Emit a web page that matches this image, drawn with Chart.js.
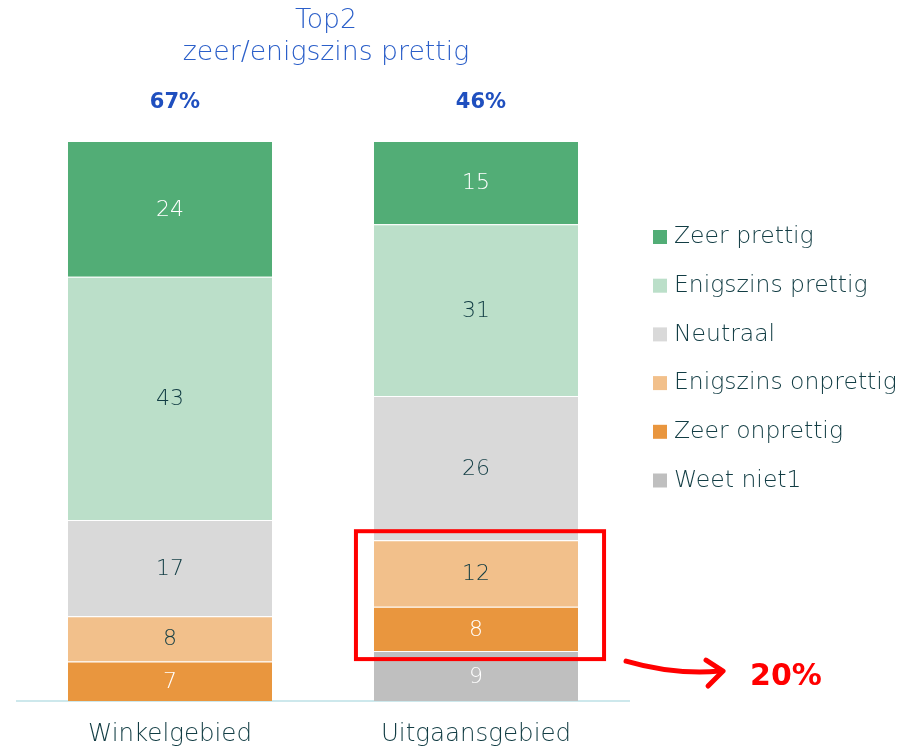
<!DOCTYPE html>
<html>
<head>
<meta charset="utf-8">
<script src="https://cdn.jsdelivr.net/npm/chart.js@4.4.1/dist/chart.umd.min.js"></script>
<style>
  html, body { margin: 0; padding: 0; background: #fff; }
  #wrap { width: 904px; height: 750px; position: relative; }
</style>
</head>
<body>
<div id="wrap"><canvas id="myChart" width="904" height="750"></canvas></div>
<script>
// * Raw data
const categories = ["Winkelgebied", "Uitgaansgebied"];
const seriesNames = ["Zeer prettig", "Enigszins prettig", "Neutraal", "Enigszins onprettig", "Zeer onprettig", "Weet niet1"];
const zeerPrettig = [24, 15];
const enigszinsPrettig = [43, 31];
const neutraal = [17, 26];
const enigszinsOnprettig = [8, 12];
const zeerOnprettig = [7, 8];
const weetNiet = [0, 9];

const colors = ["#52AD76", "#BBDFC9", "#D9D9D9", "#F2C08B", "#E9963E", "#BFBFBF"];
const textColor = "#123D44";
const labelColors = ["#ffffff", textColor, textColor, textColor, "#ffffff", "#ffffff"];
const FONT = '"DejaVu Sans"';

const rawSeries = [zeerPrettig, enigszinsPrettig, neutraal, enigszinsOnprettig, zeerOnprettig, weetNiet];
const n = rawSeries.length;

// * Totals per category, bars are drawn as share of 100
const totals = categories.map((c, i) => rawSeries.reduce((s, arr) => s + arr[i], 0));

// * Stack from the bottom: "Weet niet" first, "Zeer prettig" on top
const datasets = rawSeries
    .map((arr, k) => ({
        label: seriesNames[k],
        data: arr.map((v, i) => (v / totals[i]) * 100),
        raw: arr,
        idx: k,
        backgroundColor: colors[k],
        borderColor: "rgba(255,255,255,0.35)",
        borderWidth: { top: 1, bottom: 0, left: 0, right: 0 },
        borderSkipped: false,
        categoryPercentage: 1,
        barPercentage: 0.667,
    }))
    .reverse();

const metaOf = (chart, k) => chart.getDatasetMeta(n - 1 - k);

const overlay = {
    id: "overlay",
    afterDatasetsDraw(chart) {
        const ctx = chart.ctx;
        ctx.save();
        ctx.textAlign = "center";
        ctx.textBaseline = "middle";

        // * value labels
        chart.data.datasets.forEach((ds, d) => {
            const meta = chart.getDatasetMeta(d);
            meta.data.forEach((bar, i) => {
                const v = ds.raw[i];
                if (!v) return;
                ctx.fillStyle = labelColors[ds.idx];
                ctx.font = "200 22px " + FONT;
                ctx.fillText(String(v), bar.x, (bar.y + bar.base) / 2 + 1);
            });
        });

        // * category labels
        ctx.fillStyle = textColor;
        ctx.font = "200 24.5px " + FONT;
        metaOf(chart, 0).data.forEach((bar, i) => {
            ctx.fillText(categories[i], bar.x, 735);
        });

        // * Title
        ctx.fillStyle = "#2B5FC9";
        ctx.font = "200 26.7px " + FONT;
        ctx.fillText("Top2", 326, 21);
        ctx.fillText("zeer/enigszins prettig", 326, 53);

        // * Top2 percentages
        ctx.font = "bold 21px " + FONT;
        ctx.fillStyle = "#1F4FBF";
        metaOf(chart, 0).data.forEach((bar, i) => {
            const top2 = zeerPrettig[i] + enigszinsPrettig[i];
            ctx.fillText(top2 + "%", bar.x + 5, 103);
        });

        // * Red box around onprettig in second bar
        const b1 = metaOf(chart, 3).data[1];
        const b2 = metaOf(chart, 4).data[1];
        const left = b1.x - b1.width / 2 - 18;
        const right = b1.x + b1.width / 2 + 26;
        const top = b1.y - 9;
        const bottom = b2.base + 8;
        ctx.strokeStyle = "#FF0000";
        ctx.lineWidth = 4;
        ctx.strokeRect(left, top, right - left, bottom - top);

        // * curved arrow
        ctx.lineWidth = 5;
        ctx.lineCap = "round";
        ctx.lineJoin = "round";
        ctx.beginPath();
        ctx.moveTo(right + 22, bottom + 2);
        ctx.quadraticCurveTo(right + 70, bottom + 16, right + 116, bottom + 12);
        ctx.stroke();
        ctx.beginPath();
        ctx.moveTo(right + 102, bottom + 1);
        ctx.lineTo(right + 119, bottom + 12);
        ctx.lineTo(right + 104, bottom + 27);
        ctx.stroke();

        ctx.fillStyle = "#FF0000";
        ctx.font = "bold 30px " + FONT;
        ctx.textAlign = "left";
        const share = enigszinsOnprettig[1] + zeerOnprettig[1];
        ctx.fillText(share + "%", right + 146, bottom + 18);

        // * legend
        ctx.font = "200 23.5px " + FONT;
        seriesNames.forEach((name, k) => {
            const y = 237 + k * 48.7;
            ctx.fillStyle = colors[k];
            ctx.fillRect(653, y - 7, 14, 14);
            ctx.fillStyle = textColor;
            ctx.fillText(name, 674, y);
        });
        ctx.restore();
    },
};

const config = {
    type: "bar",
    data: { labels: categories, datasets: datasets },
    options: {
        responsive: false,
        animation: false,
        layout: { padding: { left: 17, right: 275, top: 141, bottom: 49 } },
        plugins: {
            legend: { display: false },
            tooltip: { enabled: false },
        },
        scales: {
            x: {
                stacked: true,
                grid: { display: false, drawTicks: false },
                border: { color: "#CDE8EC", width: 2 },
                ticks: { display: false },
            },
            y: {
                stacked: true,
                display: false,
                min: 0,
                max: 100,
            },
        },
    },
    plugins: [overlay],
};

const ctx = document.getElementById("myChart").getContext("2d");
const chart = new Chart(ctx, config);
</script>
</body>
</html>
